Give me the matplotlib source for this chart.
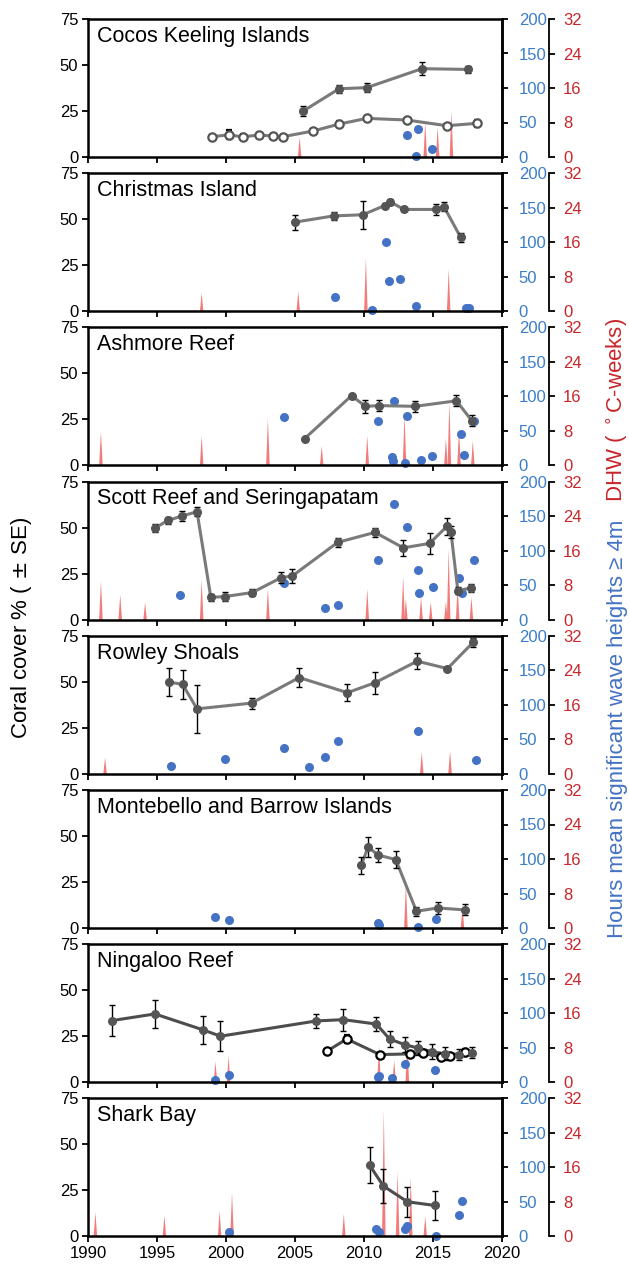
import numpy as np
import matplotlib.pyplot as plt

plt.rcParams['font.family'] = ['Liberation Sans', 'DejaVu Sans']

nan = np.nan

# ---- datos ----
sitios = ['Cocos Keeling Islands', 'Christmas Island', 'Ashmore Reef',
          'Scott Reef and Seringapatam', 'Rowley Shoals',
          'Montebello and Barrow Islands', 'Ningaloo Reef', 'Shark Bay']

# Cocos Keeling
cocos_anio = [2005.6, 2008.2, 2010.2, 2014.2, 2017.5]
cocos_cob = [25.0, 37.1, 37.7, 48.0, 47.6]
cocos_se = [2.9, 2.2, 2.5, 3.5, 2.0]
cocos_b_anio = [1999.0, 2000.2, 2001.2, 2002.4, 2003.4, 2004.1, 2006.3, 2008.2,
                2010.2, 2013.1, 2016.0, 2018.2]
cocos_b_cob = [11.0, 12.1, 10.9, 12.0, 11.4, 11.0, 14.1, 17.9, 21.0, 20.1, 17.0, 18.3]
cocos_b_se = [1.0, 2.5, 1.5, 1.0, 1.0, 1.0, 1.0, 1.5, 1.5, 1.0, 1.0, 2.0]
cocos_ola_anio = [2013.1, 2013.9, 2014.9, 2013.8]
cocos_ola = [32, 40, 12, 1]
cocos_dhw_anio = [2005.3, 2014.4, 2015.3, 2016.3]
cocos_dhw = [4.7, 8.2, 7.0, 10.7]

# Christmas Island
xmas_anio = [2005.0, 2007.8, 2009.9, 2011.5, 2011.9, 2012.9, 2015.2, 2015.8, 2017.0]
xmas_cob = [48.4, 51.8, 52.4, 57.4, 59.4, 55.3, 55.3, 56.7, 40.2]
xmas_se = [4.0, 2.0, 7.7, 1.5, 1.5, 1.0, 3.0, 2.5, 2.5]
xmas_ola_anio = [2011.6, 2011.8, 2012.6, 2007.9, 2010.6, 2013.8, 2017.4, 2017.6]
xmas_ola = [101, 44, 47, 20, 1.5, 8, 4, 4]
xmas_dhw_anio = [1998.2, 2005.2, 2010.1, 2016.1]
xmas_dhw = [4.3, 4.7, 12.4, 9.8]

# Ashmore Reef
ash_anio = [2005.7, 2009.1, 2010.1, 2011.1, 2013.7, 2016.7, 2017.8]
ash_cob = [14.6, 37.9, 32.1, 32.5, 32.1, 35.1, 24.4]
ash_se = [nan, nan, 3.5, 3.0, 3.0, 3.0, 3.0]
ash_ola_anio = [2004.2, 2011.0, 2012.2, 2013.1, 2012.0, 2012.1, 2013.0, 2014.1,
                2014.9, 2017.05, 2017.25, 2017.95]
ash_ola = [70, 64, 94, 72, 12.5, 6, 3.5, 7.5, 13.5, 45, 15, 65]
ash_dhw_anio = [1990.9, 1998.2, 2003.0, 2006.9, 2010.2, 2012.9, 2015.9, 2016.15,
                2016.85, 2017.85]
ash_dhw = [8.0, 7.0, 11.0, 4.6, 7.0, 12.0, 6.4, 14.8, 8.6, 5.8]

# Scott Reef y Seringapatam
scott_anio = [1994.85, 1995.8, 1996.8, 1997.9, 1998.9, 1999.9, 2001.9, 2004.0, 2004.8,
              2008.1, 2010.8, 2012.85, 2014.75, 2016.0, 2016.3, 2016.8, 2017.75]
scott_cob = [49.8, 53.9, 56.3, 58.6, 12.1, 12.5, 14.7, 22.8, 23.7, 42.0, 47.4, 39.0,
             41.4, 50.6, 47.6, 15.7, 17.2]
scott_se = [2, 2, 2.5, 2.5, 2, 2.5, 2, 3, 4, 2.5, 2.5, 4.5, 5.5, 4.5, 3, 2, 2]
scott_ola_anio = [1996.7, 2004.2, 2007.2, 2008.1, 2011.0, 2012.15, 2013.1, 2013.9,
                  2014.0, 2015.0, 2016.9, 2017.1, 2018.0]
scott_ola = [36, 53, 17, 21, 86, 168, 134, 72, 39, 47, 60, 38, 86]
scott_dhw_anio = [1990.9, 1992.3, 1994.1, 1998.2, 2003.0, 2010.2, 2012.8, 2013.0,
                  2014.1, 2014.8, 2015.9, 2016.1, 2016.75, 2017.75]
scott_dhw = [9.1, 5.9, 4.1, 9.3, 7.3, 7.2, 10.1, 4.9, 5.3, 4.1, 4.3, 16.5, 8.1, 5.3]

# Rowley Shoals
rowley_anio = [1995.85, 1996.85, 1997.9, 2001.85, 2005.3, 2008.8, 2010.8, 2013.85,
               2016.05, 2017.9]
rowley_cob = [49.9, 48.6, 35.3, 38.4, 52.3, 44.1, 49.5, 61.2, 57.2, 71.4]
rowley_se = [7.6, 8.0, 13.0, 3.0, 5.0, 4.5, 6.0, 4.5, 1.0, 2.5]
rowley_ola_anio = [1996.0, 1999.95, 2004.2, 2006.0, 2007.2, 2008.1, 2013.9, 2018.15]
rowley_ola = [10.7, 21, 37, 10, 25, 47, 62, 20]
rowley_dhw_anio = [1991.2, 2014.15, 2016.2]
rowley_dhw = [3.9, 5.2, 5.4]

# Montebello y Barrow
monte_anio = [2009.8, 2010.3, 2011.0, 2012.3, 2013.8, 2015.35, 2017.35]
monte_cob = [34.1, 44.1, 39.7, 37.2, 9.1, 10.9, 9.8]
monte_se = [4.5, 5.5, 4.0, 4.5, 2.5, 3.5, 3.0]
monte_ola_anio = [1999.2, 2000.2, 2011.0, 2011.1, 2013.9, 2015.2]
monte_ola = [16, 11.6, 7.7, 4.4, 1, 13]
monte_dhw_anio = [2013.0, 2017.1]
monte_dhw = [10.3, 4.9]

# Ningaloo
ning_anio = [1991.75, 1994.85, 1998.35, 1999.6, 2006.55, 2008.5, 2010.9, 2011.85,
             2012.95, 2013.9, 2014.9, 2015.9, 2016.9, 2017.85]
ning_cob = [33.5, 37.1, 28.4, 25.0, 33.3, 34.0, 31.6, 23.5, 20.4, 18.6, 16.6, 15.4,
            15.0, 15.9]
ning_se = [8.5, 7.5, 7.5, 8.0, 4.0, 6.0, 4.0, 4.5, 4.0, 4.0, 4.0, 3.5, 3.0, 3.0]
ning_b_anio = [2007.3, 2008.75, 2011.15, 2013.35, 2014.25, 2015.55, 2016.2, 2017.3]
ning_b_cob = [16.8, 23.5, 15.0, 15.4, 15.7, 13.9, 14.5, 16.3]
ning_b_se = [nan, 2.0, nan, nan, nan, nan, nan, 2.0]
ning_ola_anio = [1999.2, 2000.2, 2011.0, 2011.1, 2012.0, 2013.0, 2015.15]
ning_ola = [3.4, 10.6, 7.2, 9.6, 6.7, 27, 17]
ning_dhw_anio = [1999.2, 2000.15, 2011.05, 2012.15, 2013.1]
ning_dhw = [4.9, 6.2, 8.6, 5.2, 10.4]

# Shark Bay
shark_anio = [2010.4, 2011.4, 2013.15, 2015.15]
shark_cob = [38.8, 27.4, 18.8, 16.8]
shark_se = [9.7, 9.5, 8.0, 8.0]
shark_ola_anio = [2000.2, 2010.9, 2011.1, 2013.0, 2013.15, 2015.2, 2016.9, 2017.1]
shark_ola = [6, 10, 6.3, 10, 15.6, 1, 31.7, 51.7]
shark_dhw_anio = [1990.5, 1995.5, 1999.5, 2000.4, 2008.5, 2011.4, 2012.4, 2013.35, 2014.4]
shark_dhw = [5.7, 4.9, 6.0, 10.3, 5.3, 29.5, 15.2, 13.9, 4.7]

# tabla armada a partir de las listas anteriores
datos = [
    (cocos_anio, cocos_cob, cocos_se, (cocos_b_anio, cocos_b_cob, cocos_b_se),
     cocos_ola_anio, cocos_ola, cocos_dhw_anio, cocos_dhw),
    (xmas_anio, xmas_cob, xmas_se, None, xmas_ola_anio, xmas_ola, xmas_dhw_anio, xmas_dhw),
    (ash_anio, ash_cob, ash_se, None, ash_ola_anio, ash_ola, ash_dhw_anio, ash_dhw),
    (scott_anio, scott_cob, scott_se, None, scott_ola_anio, scott_ola,
     scott_dhw_anio, scott_dhw),
    (rowley_anio, rowley_cob, rowley_se, None, rowley_ola_anio, rowley_ola,
     rowley_dhw_anio, rowley_dhw),
    (monte_anio, monte_cob, monte_se, None, monte_ola_anio, monte_ola,
     monte_dhw_anio, monte_dhw),
    (ning_anio, ning_cob, ning_se, (ning_b_anio, ning_b_cob, ning_b_se),
     ning_ola_anio, ning_ola, ning_dhw_anio, ning_dhw),
    (shark_anio, shark_cob, shark_se, None, shark_ola_anio, shark_ola,
     shark_dhw_anio, shark_dhw),
]

# colores
ROJO_TXT = '#C8262B'
ROJO_AREA = '#F27C7C'
AZUL_TXT = '#3A7DC9'
AZUL_PUNTO = '#4472C4'
GRIS_LINEA = ['#7a7a7a'] * 6 + ['#4d4d4d', '#4d4d4d']
GRIS_MARCA = '#555555'

#%%
W, H = 629, 1267
fig = plt.figure(figsize=(W / 100, H / 100), dpi=100)

x0, x1 = 88, 502
alto = 138
paso = 154.2
TAM = 12  # tamaño de las etiquetas de los ejes

for i, (nombre, d) in enumerate(zip(sitios, datos)):
    anio, cob, se, abiertos, ola_anio, ola, dhw_anio, dhw = d
    top = 19 + i * paso
    ax = fig.add_axes([x0 / W, 1 - (top + alto) / H, (x1 - x0) / W, alto / H])
    ax_azul = ax.twinx()
    ax_rojo = ax.twinx()
    ax.set_zorder(3)
    ax.patch.set_visible(False)
    ax_azul.set_zorder(2)
    ax_rojo.set_zorder(1)

    # DHW como picos finos
    for t, v in zip(dhw_anio, dhw):
        ax_rojo.fill_between([t - 0.13, t, t + 0.13], [0, v, 0], color=ROJO_AREA,
                             lw=0)
    ax_rojo.set_ylim(0, 32)
    ax_rojo.set_yticks([0, 8, 16, 24, 32])
    ax_rojo.spines['right'].set_position(('outward', 47 * 0.72))  # 47 px
    for s in ['top', 'left', 'bottom']:
        ax_rojo.spines[s].set_visible(False)
    ax_rojo.spines['right'].set_linewidth(1.3)
    ax_rojo.tick_params(axis='y', colors='black', labelcolor=ROJO_TXT,
                        labelsize=TAM, length=4, width=1.3, pad=6)

    # horas de olas
    ax_azul.plot(ola_anio, ola, 'o', color=AZUL_PUNTO, ms=6.5, mec='none',
                 clip_on=False)
    ax_azul.set_ylim(0, 200)
    ax_azul.set_yticks([0, 50, 100, 150, 200])
    for s in ['top', 'left', 'bottom']:
        ax_azul.spines[s].set_visible(False)
    ax_azul.spines['right'].set_linewidth(1.8)
    ax_azul.tick_params(axis='y', colors='black', labelcolor=AZUL_TXT,
                        labelsize=TAM, length=4, width=1.3, pad=8)

    # cobertura de coral
    if abiertos is not None:
        ba, bc, bs = abiertos
        mec = GRIS_MARCA if i == 0 else 'black'
        ax.plot(ba, bc, '-', color=GRIS_LINEA[i], lw=2.2, zorder=2)
        ax.errorbar(ba, bc, yerr=bs, fmt='o', ms=6, mfc='white', mec=mec, mew=1.6,
                    ecolor='black', elinewidth=1, capsize=2.5, capthick=1, zorder=3)
    ax.plot(anio, cob, '-', color=GRIS_LINEA[i], lw=2.2, zorder=2)
    ax.errorbar(anio, cob, yerr=se, fmt='o', ms=5.5, color=GRIS_MARCA,
                ecolor='black', elinewidth=1, capsize=2.5, capthick=1, zorder=3)

    ax.set_xlim(1990, 2020)
    ax.set_ylim(0, 75)
    ax.set_yticks([0, 25, 50, 75])
    ax.set_xticks(range(1990, 2021, 5))
    for s in ax.spines.values():
        s.set_linewidth(1.8)
    ax.tick_params(axis='both', labelsize=TAM, length=4, width=1.3, pad=3)
    if i < 7:
        ax.set_xticklabels([])
    ax.text(0.022, 0.95, nombre, transform=ax.transAxes, ha='left', va='top',
            fontsize=15.5)

fig.text(22 / W, 1 - 628 / H, 'Coral cover % ( $\\pm$ SE)', rotation=90,
         ha='center', va='center', fontsize=16)
fig.text(617 / W, 1 - 410 / H, 'DHW ( $^\\circ$C-weeks)', rotation=90,
         ha='center', va='center', fontsize=16, color=ROJO_TXT)
fig.text(617 / W, 1 - 729 / H, 'Hours mean significant wave heights ≥ 4m',
         rotation=90, ha='center', va='center', fontsize=16, color=AZUL_PUNTO)

fig.savefig('out.png', dpi=100)
